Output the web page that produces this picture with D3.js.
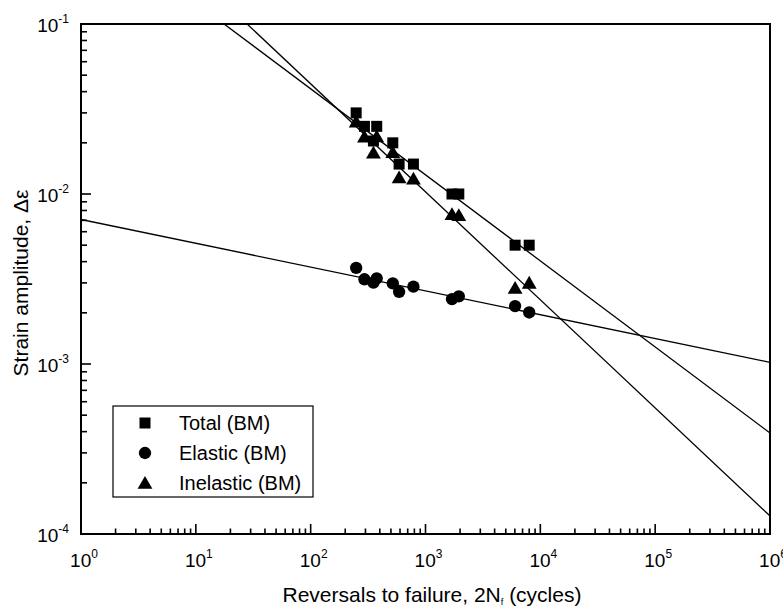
<!DOCTYPE html>
<html>
<head>
<meta charset="utf-8">
<script src="https://cdn.jsdelivr.net/npm/d3@7"></script>
<style>
  body { margin: 0; background: #fff; }
  svg { font-family: "Liberation Sans", Arial, sans-serif; }
</style>
</head>
<body>
<svg id="chart" width="783" height="609"></svg>
<script>
// ---- Data ----
const totalCycles   = [249, 294, 352, 376, 519, 589, 785, 1700, 1950, 6030, 8000];
const totalStrain   = [0.030, 0.025, 0.0205, 0.025, 0.020, 0.015, 0.015, 0.010, 0.010, 0.0050, 0.0050];
const elasticCycles = [249, 294, 352, 376, 519, 589, 785, 1700, 1950, 6030, 8000];
const elasticStrain = [0.00368, 0.00315, 0.00301, 0.00319, 0.00298, 0.00266, 0.00285, 0.00241, 0.00250, 0.00219, 0.00201];
const inelCycles    = [249, 294, 352, 376, 519, 589, 785, 1700, 1950, 6030, 8000];
const inelStrain    = [0.0266, 0.0217, 0.0175, 0.0218, 0.0176, 0.0125, 0.0123, 0.0076, 0.0075, 0.0028, 0.0030];

// Power-law fit lines: strain = coef * (2Nf)^exponent
const fitNames     = ["Total", "Elastic", "Inelastic"];
const fitCoef      = [0.427, 0.00708, 0.830];
const fitExponent  = [-0.506, -0.140, -0.6355];

const xTickExps = [0, 1, 2, 3, 4, 5, 6];
const yTickExps = [-4, -3, -2, -1];
const legendLabels = ["Total (BM)", "Elastic (BM)", "Inelastic (BM)"];

// ---- Layout ----
const svg = d3.select("#chart");
const L = 81, R = 770, T = 24, B = 534;
const x = d3.scaleLog().domain([1, 1e6]).range([L, R]);
const y = d3.scaleLog().domain([1e-4, 1e-1]).range([B, T]);

svg.append("defs").append("clipPath").attr("id", "clip")
  .append("rect").attr("x", L).attr("y", T).attr("width", R - L).attr("height", B - T);

// Minor + major ticks (inward)
const xMinor = [];
for (let e = 0; e < 6; e++) for (let m = 2; m <= 9; m++) xMinor.push(m * Math.pow(10, e));
const yMinor = [];
for (let e = -4; e < -1; e++) for (let m = 2; m <= 9; m++) yMinor.push(m * Math.pow(10, e));

const tickG = svg.append("g").attr("stroke", "#000").attr("stroke-width", 1.6);
tickG.selectAll(".xmin").data(xMinor).enter().append("line")
  .attr("x1", d => x(d)).attr("x2", d => x(d)).attr("y1", B).attr("y2", B - 5.5);
tickG.selectAll(".xmaj").data(xTickExps).enter().append("line")
  .attr("x1", d => x(Math.pow(10, d))).attr("x2", d => x(Math.pow(10, d))).attr("y1", B).attr("y2", B - 10);
tickG.selectAll(".ymin").data(yMinor).enter().append("line")
  .attr("y1", d => y(d)).attr("y2", d => y(d)).attr("x1", L).attr("x2", L + 6);
tickG.selectAll(".ymaj").data(yTickExps).enter().append("line")
  .attr("y1", d => y(Math.pow(10, d))).attr("y2", d => y(Math.pow(10, d))).attr("x1", L).attr("x2", L + 10);

// Frame
svg.append("rect").attr("x", L).attr("y", T).attr("width", R - L).attr("height", B - T)
  .attr("fill", "none").attr("stroke", "#000").attr("stroke-width", 2);

// Tick labels
const xl = svg.append("g").attr("font-size", 19).attr("fill", "#000");
xTickExps.forEach(e => {
  const t = xl.append("text").attr("x", x(Math.pow(10, e)) + 3).attr("y", 567).attr("text-anchor", "middle");
  t.append("tspan").text("10");
  t.append("tspan").attr("font-size", 12).attr("dy", -9).text(e);
});
yTickExps.forEach(e => {
  const t = xl.append("text").attr("x", 69).attr("y", y(Math.pow(10, e)) + 8).attr("text-anchor", "end");
  t.append("tspan").text("10");
  t.append("tspan").attr("font-size", 12).attr("dy", -9).text("-" + Math.abs(e));
});

// Axis titles
const xt = svg.append("text").attr("x", 432).attr("y", 602).attr("text-anchor", "middle")
  .attr("font-size", 21);
xt.append("tspan").text("Reversals to failure, 2N");
xt.append("tspan").attr("font-size", 9).attr("dy", 3).text("f");
xt.append("tspan").attr("dy", -3).text(" (cycles)");

svg.append("text").attr("transform", "translate(28,283) rotate(-90)")
  .attr("text-anchor", "middle").attr("font-size", 21).text("Strain amplitude, Δε");

// Fit lines
const lineG = svg.append("g").attr("clip-path", "url(#clip)");
const line = d3.line().x(d => x(d[0])).y(d => y(d[1]));
fitCoef.forEach((c, i) => {
  const pts = [1, 1e6].map(n => [n, c * Math.pow(n, fitExponent[i])]);
  lineG.append("path").attr("d", line(pts)).attr("fill", "none")
    .attr("stroke", "#000").attr("stroke-width", 1.3);
});

// Markers
const sq = d3.symbol().type(d3.symbolSquare).size(121);
const ci = d3.symbol().type(d3.symbolCircle).size(120);
const tr = d3.symbol().type(d3.symbolTriangle).size(95);
const mk = svg.append("g").attr("fill", "#000");
mk.selectAll(".sq").data(totalCycles).enter().append("path")
  .attr("d", sq).attr("transform", (d, i) => `translate(${x(d)},${y(totalStrain[i])})`);
mk.selectAll(".ci").data(elasticCycles).enter().append("path")
  .attr("d", ci).attr("transform", (d, i) => `translate(${x(d)},${y(elasticStrain[i])})`);
mk.selectAll(".tr").data(inelCycles).enter().append("path")
  .attr("d", tr).attr("transform", (d, i) => `translate(${x(d)},${y(inelStrain[i]) + 1.5})`);

// Legend
const lg = svg.append("g");
lg.append("rect").attr("x", 113).attr("y", 406).attr("width", 200).attr("height", 91)
  .attr("fill", "#fff").attr("stroke", "#000").attr("stroke-width", 1.2);
const legendSyms = [sq, ci, tr];
legendLabels.forEach((lab, i) => {
  const cy = 423 + i * 30;
  lg.append("path").attr("d", legendSyms[i]).attr("fill", "#000")
    .attr("transform", `translate(145,${cy + (i === 2 ? 1.5 : 0)})`);
  lg.append("text").attr("x", 179).attr("y", cy + 7).attr("font-size", 20).text(lab);
});
</script>
</body>
</html>
